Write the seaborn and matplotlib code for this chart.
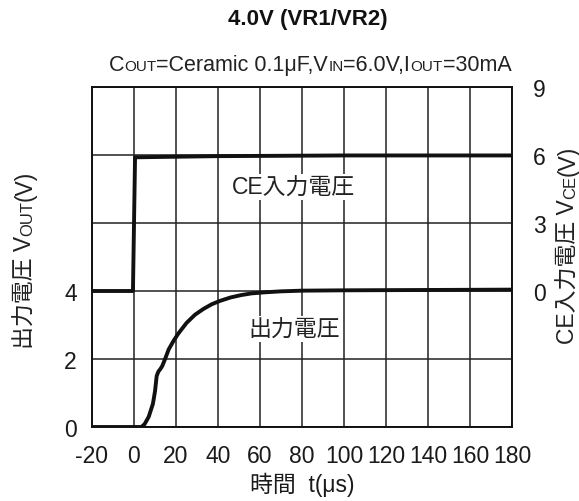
import numpy as np
import pandas as pd
import matplotlib
matplotlib.use("Agg")
import matplotlib.pyplot as plt
import seaborn as sns

# ---- data ----
ce_t = [-20, -0.5, 0.5, 2, 40, 100, 180]
ce_v = [0, 0, 5.9, 5.9, 5.95, 5.98, 5.98]

vout_t = [-20, 3.5, 5, 7, 9, 10, 10.8, 11.6, 12.5, 13.5, 14.8, 16.5, 18.7, 21,
          25, 29, 33, 37, 41, 46, 51, 56, 62, 70, 80, 100, 140, 180]
vout_v = [0, 0, 0.08, 0.3, 0.68, 1.05, 1.5, 1.63, 1.7, 1.8, 2.0, 2.28, 2.52, 2.74,
          3.06, 3.3, 3.47, 3.61, 3.71, 3.81, 3.88, 3.93, 3.96, 3.99, 4.01, 4.02, 4.03, 4.04]

x_ticks = [-20, 0, 20, 40, 60, 80, 100, 120, 140, 160, 180]
left_ticks = [0, 2, 4, 6, 8, 10]
left_labels = ["0", "2", "4", "", "", ""]
right_ticks = [0, 3, 6, 9]

title = "4.0V (VR1/VR2)"
label_ce = "CE入力電圧"
label_out = "出力電圧"
xlabel = "時間  t(μs)"

sns.set_theme(style="white")
plt.rcParams["font.family"] = ["Liberation Sans", "Noto Sans CJK JP", "DejaVu Sans"]
plt.rcParams["axes.unicode_minus"] = False

W, H = 579, 502
fig = plt.figure(figsize=(W / 100, H / 100), dpi=100)
L, R, T, B = 92, 512, 88, 428
ax = fig.add_axes([L / W, 1 - B / H, (R - L) / W, (B - T) / H])
ax2 = ax.twinx()

df_out = pd.DataFrame({"t": vout_t, "v": vout_v})
df_ce = pd.DataFrame({"t": ce_t, "v": ce_v})
sns.lineplot(data=df_out, x="t", y="v", ax=ax, color="#111111", lw=2.8,
             estimator=None, sort=False)
sns.lineplot(data=df_ce, x="t", y="v", ax=ax2, color="#111111", lw=2.8,
             estimator=None, sort=False)

ax.set_xlim(-20, 180)
ax.set_ylim(0, 10)
ax2.set_ylim(-6, 9)
ax.set_xticks(x_ticks)
ax.set_yticks(left_ticks)
ax.set_yticklabels(left_labels)
ax2.set_yticks(right_ticks)
ax.set_xlabel("")
ax.set_ylabel("")
ax2.set_ylabel("")
ax.grid(True, color="#222222", lw=1.1)
ax.set_axisbelow(True)
for a in (ax, ax2):
    for s in a.spines.values():
        s.set_color("#111111")
        s.set_linewidth(1.2)
TS = 16.5
ax.tick_params(axis="both", length=0, labelsize=TS, colors="#1a1a1a")
ax.tick_params(axis="y", pad=11)
ax.tick_params(axis="x", pad=12)
ax2.tick_params(axis="y", length=0, labelsize=TS, colors="#1a1a1a", pad=15)

ax.text(75.7, 7.06, label_ce, ha="center", va="center", fontsize=16.5, color="#222222",
        bbox=dict(facecolor="white", edgecolor="none", pad=1))
ax.text(76.2, 2.88, label_out, ha="center", va="center", fontsize=16.5, color="#222222",
        bbox=dict(facecolor="white", edgecolor="none", pad=1))

# figure texts
def px(x, y):
    return x / W, 1 - y / H

fig.text(*px(308, 20), title, ha="center", va="center", fontsize=16,
         fontweight="bold", color="#111111")
fig.text(*px(302, 485), xlabel, ha="center", va="center", fontsize=16.5, color="#1a1a1a")

fig.canvas.draw()
renderer = fig.canvas.get_renderer()

def pieces_text(pieces, cx, base, rotation=0):
    widths = []
    for s, fs in pieces:
        t = fig.text(0, 0, s, fontsize=fs)
        widths.append(t.get_window_extent(renderer).width)
        t.remove()
    total = sum(widths)
    start = -total / 2
    cum = 0
    for (s, fs), w in zip(pieces, widths):
        if rotation == 0:
            xpix, ypix = cx + start + cum, base
        else:
            xpix, ypix = base, cx - (start + cum)
        fig.text(xpix / W, 1 - ypix / H, s, fontsize=fs, color="#222222",
                 ha="left", va="baseline", rotation=rotation,
                 rotation_mode="anchor")
        cum += w

big, small = 15.5, 11
pieces_text([("C", big), ("OUT", small), ("=Ceramic 0.1μF,V", big), ("IN", small),
             ("=6.0V,I", big), ("OUT", small), ("=30mA", big)], 310, 71)
pieces_text([("出力電圧 V", 16.5), ("OUT", 12), ("(V)", 16.5)], 260, 32, rotation=90)
pieces_text([("CE入力電圧 V", 16.5), ("CE", 12), ("(V)", 16.5)], 245, 575, rotation=90)

fig.savefig("out.png", dpi=100)
